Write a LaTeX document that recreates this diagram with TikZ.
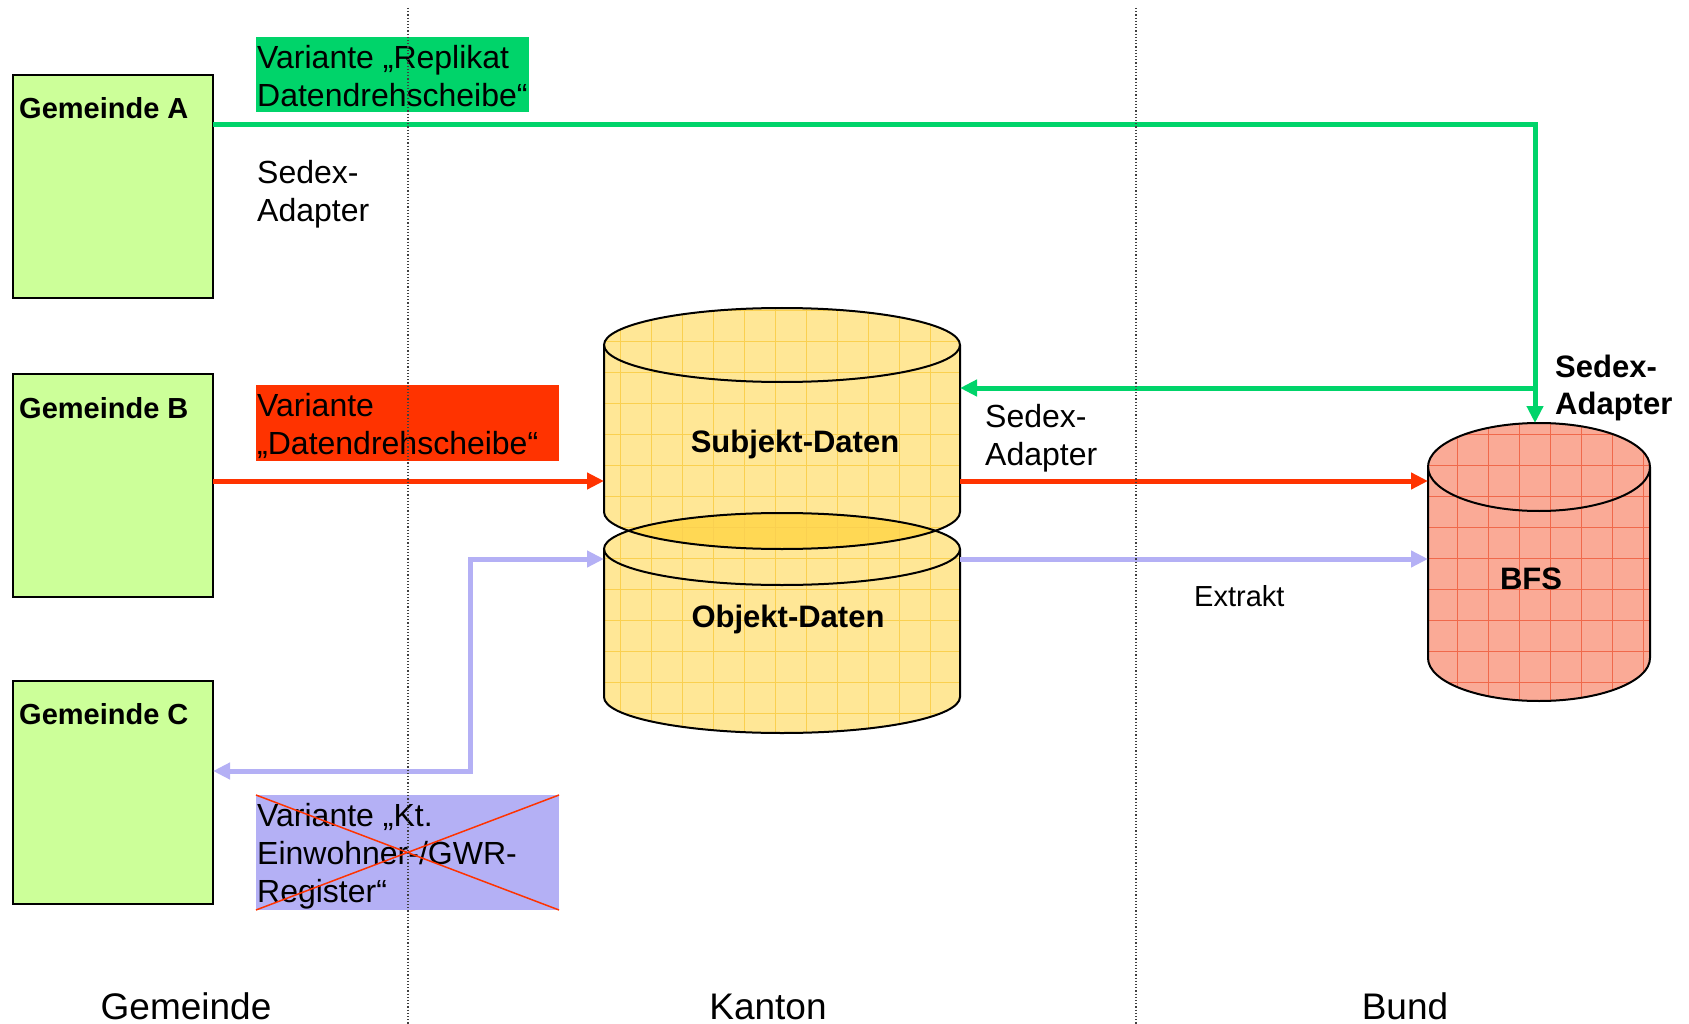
\documentclass[tikz,border=0pt]{standalone}
\usepackage{fontspec}
\setmainfont{Liberation Sans}
\usetikzlibrary{arrows.meta}
\hyphenpenalty=10000
\exhyphenpenalty=10000

\definecolor{gemgruen}{RGB}{204,255,153}
\definecolor{gruen}{RGB}{0,212,106}
\definecolor{rot}{RGB}{255,51,0}
\definecolor{lila}{RGB}{180,176,245}
\definecolor{dbgelb}{RGB}{255,231,150}
\definecolor{dbdunkel}{RGB}{255,216,84}
\definecolor{dbgitterfarbe}{RGB}{250,208,80}
\definecolor{bfsrot}{RGB}{250,170,150}
\definecolor{bfsgitterfarbe}{RGB}{240,105,75}

\tikzset{
  gembox/.style={draw, line width=2pt, fill=gemgruen, minimum width=200pt,
                 minimum height=223pt, outer sep=0pt},
  gemtext/.style={anchor=base west, inner sep=0pt,
                  font=\fontsize{29}{34}\selectfont\bfseries},
  varbox/.style={anchor=north west, inner sep=0pt, outer sep=0pt},
  beschrift/.style={anchor=north west, inner sep=0pt, align=left,
                    font=\fontsize{32}{38}\selectfont},
  fett/.style={inner sep=0pt, font=\fontsize{31}{37}\selectfont\bfseries},
  ebene/.style={anchor=base, inner sep=0pt, font=\fontsize{37}{44}\selectfont},
  pfeil/.style={line width=5pt, -{Triangle[length=17pt,width=16pt]}},
  doppelpfeil/.style={line width=5pt,
                      {Triangle[length=17pt,width=16pt]}-{Triangle[length=17pt,width=16pt]}},
  dbrand/.style={line width=2pt},
  dbgitter/.style={dbgitterfarbe, line width=0.6pt, step=31pt},
  bfsgitter/.style={bfsgitterfarbe, line width=0.6pt, step=31pt},
  trenner/.style={dotted, line width=1.2pt, black!75}
}

\begin{document}
\begin{tikzpicture}[x=1pt, y=-1pt]
 \useasboundingbox (0,0) rectangle (1689,1024);

 % Gemeinden
 \node[gembox] (gemA) at (113,186.5) {};
 \node[gembox] (gemB) at (113,485.5) {};
 \node[gembox] (gemC) at (113,792) {};
 \node[gemtext] at ([xshift=6pt,yshift=-44pt]gemA.north west) {Gemeinde A};
 \node[gemtext] at ([xshift=6pt,yshift=-44pt]gemB.north west) {Gemeinde B};
 \node[gemtext] at ([xshift=6pt,yshift=-44pt]gemC.north west) {Gemeinde C};

 % Varianten
 \node[varbox, fill=gruen, minimum width=273pt, minimum height=75pt] (vgruen) at (256,37) {};
 \node[varbox, fill=rot, minimum width=303pt, minimum height=76pt] (vrot) at (256,385) {};
 \node[varbox, fill=lila, minimum width=303pt, minimum height=115pt] (vlila) at (256,795) {};
 \node[beschrift] (tgruen) at ([xshift=1pt,yshift=-8pt]vgruen.north west)
      {Variante „Replikat\\Datendrehscheibe“};
 \node[beschrift] (trot) at ([xshift=1pt,yshift=-8pt]vrot.north west)
      {Variante\\„Datendrehscheibe“};
 \node[beschrift] (tlila) at ([xshift=1pt,yshift=-8pt]vlila.north west)
      {Variante „Kt.\\Einwohner-/GWR-\\Register“};
 \draw[rot, line width=1.5pt] (vlila.north west) -- (vlila.south east)
                              (vlila.south west) -- (vlila.north east);

 % Datenbanken
 \def\subjkoerper{(604,345) -- (604,512) arc[start angle=180,end angle=0,x radius=178,y radius=37]
   -- (960,345) arc[start angle=0,end angle=-180,x radius=178,y radius=37] -- cycle}
 \def\objkoerper{(604,549) -- (604,697) arc[start angle=180,end angle=0,x radius=178,y radius=36]
   -- (960,549) arc[start angle=0,end angle=-180,x radius=178,y radius=36] -- cycle}
 \def\bfskoerper{(1428,467) -- (1428,658) arc[start angle=180,end angle=0,x radius=111,y radius=43]
   -- (1650,467) arc[start angle=0,end angle=-180,x radius=111,y radius=44] -- cycle}

 \fill[dbgelb] \objkoerper;
 \fill[dbgelb] \subjkoerper;
 \begin{scope}
   \clip \subjkoerper;
   \fill[dbdunkel] \objkoerper;
   \draw[dbgitter] (590,760) grid (980,300);
 \end{scope}
 \begin{scope}
   \clip \objkoerper;
   \draw[dbgitter] (590,760) grid (980,300);
 \end{scope}
 \draw[dbrand] (604,345) -- (604,512)
      arc[start angle=180,end angle=0,x radius=178,y radius=37] -- (960,345);
 \draw[dbrand] (782,345) ellipse[x radius=178,y radius=37];
 \draw[dbrand] (604,549) -- (604,697)
      arc[start angle=180,end angle=0,x radius=178,y radius=36] -- (960,549);
 \draw[dbrand] (782,549) ellipse[x radius=178,y radius=36];

 \fill[bfsrot] \bfskoerper;
 \begin{scope}
   \clip \bfskoerper;
   \draw[bfsgitter] (1420,710) grid (1660,415);
 \end{scope}
 \draw[dbrand] (1428,467) -- (1428,658)
      arc[start angle=180,end angle=0,x radius=111,y radius=43] -- (1650,467);
 \draw[dbrand] (1539,467) ellipse[x radius=111,y radius=44];

 \node[fett, anchor=base] (subj) at (795,452) {Subjekt-Daten};
 \node[fett, anchor=base] (obj) at (788,627) {Objekt-Daten};
 \node[fett, anchor=base] (bfs) at (1531,589) {BFS};

 \coordinate (subj-w) at (604,481);
 \coordinate (subj-e) at (960,481);
 \coordinate (obj-w) at (604,559);
 \coordinate (obj-e) at (960,559);
 \coordinate (bfs-w) at (1428,481);
 \coordinate (bfs-n) at (1535,423);
 \coordinate (knick) at (1535,125);
 \coordinate (abzw) at (1535,388);
 \coordinate (lknick) at (470,559);

 % Datenfluesse
 \draw[pfeil, gruen] (gemA.east |- knick) -- (knick) -- (bfs-n);
 \draw[pfeil, gruen] (abzw) -- (subj-e |- abzw);
 \draw[pfeil, rot] (gemB.east |- subj-w) -- (subj-w);
 \draw[pfeil, rot] (subj-e) -- (bfs-w);
 \draw[pfeil, lila] (obj-e) -- (bfs-w |- obj-e);
 \draw[doppelpfeil, lila] (gemC.east |- 0,771) -| (lknick) -- (obj-w);

 \node[beschrift] (sedexA) at (257,160) {Sedex-\\Adapter};
 \node[beschrift] (sedexK) at (985,404) {Sedex-\\Adapter};
 \node[beschrift, font=\fontsize{31}{37}\selectfont\bfseries] (sedexB)
      at (1555,355) {Sedex-\\Adapter};
 \node[anchor=base west, inner sep=0pt, font=\fontsize{29}{34}\selectfont] (extrakt)
      at (1194,606) {Extrakt};

 % Ebenen
 \node[ebene] (gemeinde) at (186,1019) {Gemeinde};
 \node[ebene] (kanton) at (768,1019) {Kanton};
 \node[ebene] (bund) at (1405,1019) {Bund};
 \draw[trenner] (408,8) -- (408,1024);
 \draw[trenner] (1136,8) -- (1136,1024);
\end{tikzpicture}
\end{document}
